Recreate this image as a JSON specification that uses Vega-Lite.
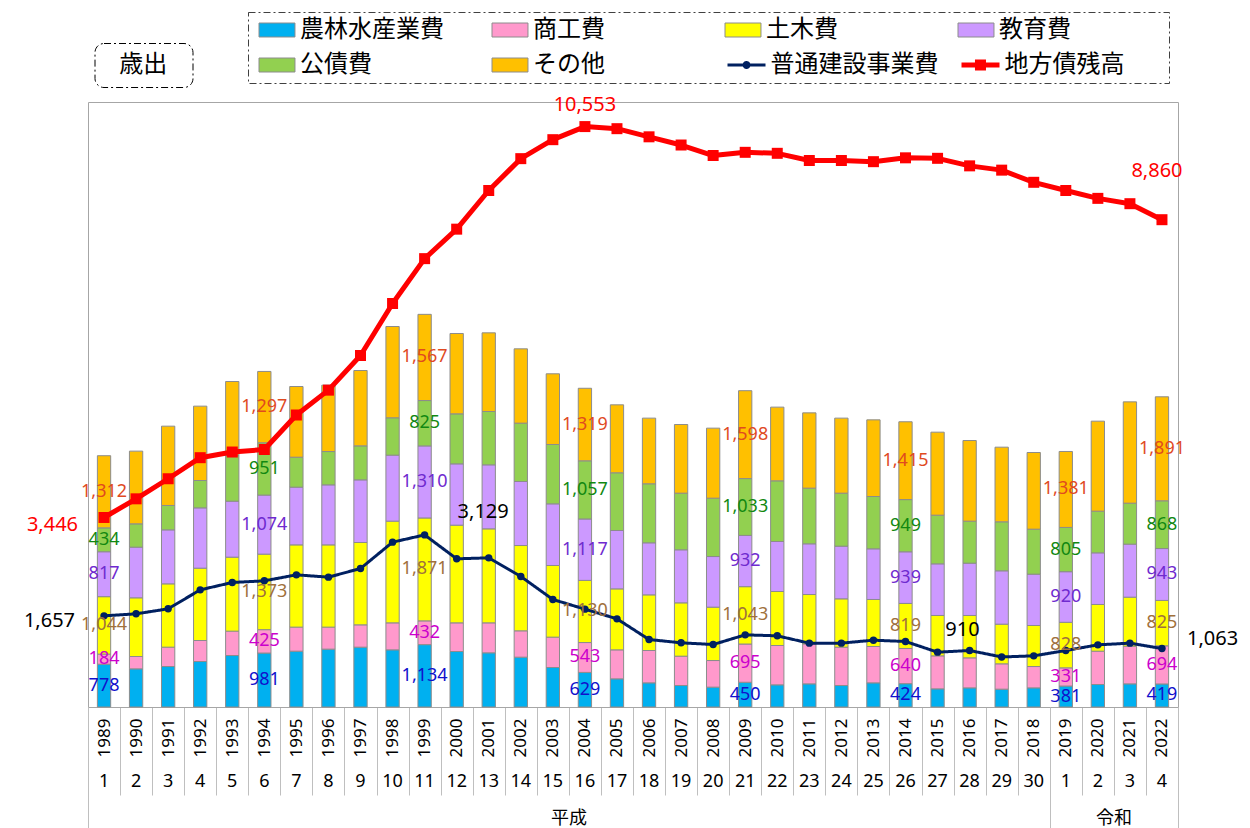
{
  "$schema": "https://vega.github.io/schema/vega-lite/v6.json",
  "width": 1090,
  "height": 605,
  "autosize": {"type": "none"},
  "padding": {"left": 88, "top": 102, "right": 72, "bottom": 121},
  "background": "white",
  "datasets": {
    "bars": [
      {"year":1989,"c":"農林水産業費","v":778,"k":1},{"year":1989,"c":"商工費","v":184,"k":2},{"year":1989,"c":"土木費","v":1044,"k":3},{"year":1989,"c":"教育費","v":817,"k":4},{"year":1989,"c":"公債費","v":434,"k":5},{"year":1989,"c":"その他","v":1312,"k":6},
      {"year":1990,"c":"農林水産業費","v":694,"k":1},{"year":1990,"c":"商工費","v":224,"k":2},{"year":1990,"c":"土木費","v":1067,"k":3},{"year":1990,"c":"教育費","v":921,"k":4},{"year":1990,"c":"公債費","v":424,"k":5},{"year":1990,"c":"その他","v":1322,"k":6},
      {"year":1991,"c":"農林水産業費","v":736,"k":1},{"year":1991,"c":"商工費","v":352,"k":2},{"year":1991,"c":"土木費","v":1151,"k":3},{"year":1991,"c":"教育費","v":982,"k":4},{"year":1991,"c":"公債費","v":443,"k":5},{"year":1991,"c":"その他","v":1442,"k":6},
      {"year":1992,"c":"農林水産業費","v":827,"k":1},{"year":1992,"c":"商工費","v":382,"k":2},{"year":1992,"c":"土木費","v":1315,"k":3},{"year":1992,"c":"教育費","v":1097,"k":4},{"year":1992,"c":"公債費","v":497,"k":5},{"year":1992,"c":"その他","v":1352,"k":6},
      {"year":1993,"c":"農林水産業費","v":936,"k":1},{"year":1993,"c":"商工費","v":443,"k":2},{"year":1993,"c":"土木費","v":1345,"k":3},{"year":1993,"c":"教育費","v":1018,"k":4},{"year":1993,"c":"公債費","v":831,"k":5},{"year":1993,"c":"その他","v":1345,"k":6},
      {"year":1994,"c":"農林水産業費","v":981,"k":1},{"year":1994,"c":"商工費","v":425,"k":2},{"year":1994,"c":"土木費","v":1373,"k":3},{"year":1994,"c":"教育費","v":1074,"k":4},{"year":1994,"c":"公債費","v":951,"k":5},{"year":1994,"c":"その他","v":1297,"k":6},
      {"year":1995,"c":"農林水産業費","v":1015,"k":1},{"year":1995,"c":"商工費","v":437,"k":2},{"year":1995,"c":"土木費","v":1496,"k":3},{"year":1995,"c":"教育費","v":1049,"k":4},{"year":1995,"c":"公債費","v":545,"k":5},{"year":1995,"c":"その他","v":1285,"k":6},
      {"year":1996,"c":"農林水産業費","v":1052,"k":1},{"year":1996,"c":"商工費","v":400,"k":2},{"year":1996,"c":"土木費","v":1496,"k":3},{"year":1996,"c":"教育費","v":1091,"k":4},{"year":1996,"c":"公債費","v":606,"k":5},{"year":1996,"c":"その他","v":1207,"k":6},
      {"year":1997,"c":"農林水産業費","v":1088,"k":1},{"year":1997,"c":"商工費","v":406,"k":2},{"year":1997,"c":"土木費","v":1497,"k":3},{"year":1997,"c":"教育費","v":1139,"k":4},{"year":1997,"c":"公債費","v":618,"k":5},{"year":1997,"c":"その他","v":1370,"k":6},
      {"year":1998,"c":"農林水産業費","v":1039,"k":1},{"year":1998,"c":"商工費","v":491,"k":2},{"year":1998,"c":"土木費","v":1849,"k":3},{"year":1998,"c":"教育費","v":1200,"k":4},{"year":1998,"c":"公債費","v":679,"k":5},{"year":1998,"c":"その他","v":1660,"k":6},
      {"year":1999,"c":"農林水産業費","v":1134,"k":1},{"year":1999,"c":"商工費","v":432,"k":2},{"year":1999,"c":"土木費","v":1871,"k":3},{"year":1999,"c":"教育費","v":1310,"k":4},{"year":1999,"c":"公債費","v":825,"k":5},{"year":1999,"c":"その他","v":1567,"k":6},
      {"year":2000,"c":"農林水産業費","v":1009,"k":1},{"year":2000,"c":"商工費","v":521,"k":2},{"year":2000,"c":"土木費","v":1776,"k":3},{"year":2000,"c":"教育費","v":1115,"k":4},{"year":2000,"c":"公債費","v":909,"k":5},{"year":2000,"c":"その他","v":1461,"k":6},
      {"year":2001,"c":"農林水産業費","v":985,"k":1},{"year":2001,"c":"商工費","v":545,"k":2},{"year":2001,"c":"土木費","v":1709,"k":3},{"year":2001,"c":"教育費","v":1164,"k":4},{"year":2001,"c":"公債費","v":970,"k":5},{"year":2001,"c":"その他","v":1430,"k":6},
      {"year":2002,"c":"農林水産業費","v":906,"k":1},{"year":2002,"c":"商工費","v":479,"k":2},{"year":2002,"c":"土木費","v":1551,"k":3},{"year":2002,"c":"教育費","v":1164,"k":4},{"year":2002,"c":"公債費","v":1061,"k":5},{"year":2002,"c":"その他","v":1351,"k":6},
      {"year":2003,"c":"農林水産業費","v":718,"k":1},{"year":2003,"c":"商工費","v":552,"k":2},{"year":2003,"c":"土木費","v":1303,"k":3},{"year":2003,"c":"教育費","v":1121,"k":4},{"year":2003,"c":"公債費","v":1079,"k":5},{"year":2003,"c":"その他","v":1285,"k":6},
      {"year":2004,"c":"農林水産業費","v":629,"k":1},{"year":2004,"c":"商工費","v":543,"k":2},{"year":2004,"c":"土木費","v":1130,"k":3},{"year":2004,"c":"教育費","v":1117,"k":4},{"year":2004,"c":"公債費","v":1057,"k":5},{"year":2004,"c":"その他","v":1319,"k":6},
      {"year":2005,"c":"農林水産業費","v":512,"k":1},{"year":2005,"c":"商工費","v":527,"k":2},{"year":2005,"c":"土木費","v":1109,"k":3},{"year":2005,"c":"教育費","v":1061,"k":4},{"year":2005,"c":"公債費","v":1049,"k":5},{"year":2005,"c":"その他","v":1236,"k":6},
      {"year":2006,"c":"農林水産業費","v":439,"k":1},{"year":2006,"c":"商工費","v":588,"k":2},{"year":2006,"c":"土木費","v":1012,"k":3},{"year":2006,"c":"教育費","v":946,"k":4},{"year":2006,"c":"公債費","v":1073,"k":5},{"year":2006,"c":"その他","v":1194,"k":6},
      {"year":2007,"c":"農林水産業費","v":391,"k":1},{"year":2007,"c":"商工費","v":533,"k":2},{"year":2007,"c":"土木費","v":970,"k":3},{"year":2007,"c":"教育費","v":964,"k":4},{"year":2007,"c":"公債費","v":1030,"k":5},{"year":2007,"c":"その他","v":1248,"k":6},
      {"year":2008,"c":"農林水産業費","v":361,"k":1},{"year":2008,"c":"商工費","v":484,"k":2},{"year":2008,"c":"土木費","v":970,"k":3},{"year":2008,"c":"教育費","v":921,"k":4},{"year":2008,"c":"公債費","v":1061,"k":5},{"year":2008,"c":"その他","v":1273,"k":6},
      {"year":2009,"c":"農林水産業費","v":450,"k":1},{"year":2009,"c":"商工費","v":695,"k":2},{"year":2009,"c":"土木費","v":1043,"k":3},{"year":2009,"c":"教育費","v":932,"k":4},{"year":2009,"c":"公債費","v":1033,"k":5},{"year":2009,"c":"その他","v":1598,"k":6},
      {"year":2010,"c":"農林水産業費","v":403,"k":1},{"year":2010,"c":"商工費","v":715,"k":2},{"year":2010,"c":"土木費","v":982,"k":3},{"year":2010,"c":"教育費","v":909,"k":4},{"year":2010,"c":"公債費","v":1103,"k":5},{"year":2010,"c":"その他","v":1340,"k":6},
      {"year":2011,"c":"農林水産業費","v":421,"k":1},{"year":2011,"c":"商工費","v":727,"k":2},{"year":2011,"c":"土木費","v":897,"k":3},{"year":2011,"c":"教育費","v":922,"k":4},{"year":2011,"c":"公債費","v":1012,"k":5},{"year":2011,"c":"その他","v":1369,"k":6},
      {"year":2012,"c":"農林水産業費","v":391,"k":1},{"year":2012,"c":"商工費","v":697,"k":2},{"year":2012,"c":"土木費","v":879,"k":3},{"year":2012,"c":"教育費","v":957,"k":4},{"year":2012,"c":"公債費","v":964,"k":5},{"year":2012,"c":"その他","v":1364,"k":6},
      {"year":2013,"c":"農林水産業費","v":439,"k":1},{"year":2013,"c":"商工費","v":661,"k":2},{"year":2013,"c":"土木費","v":855,"k":3},{"year":2013,"c":"教育費","v":921,"k":4},{"year":2013,"c":"公債費","v":951,"k":5},{"year":2013,"c":"その他","v":1394,"k":6},
      {"year":2014,"c":"農林水産業費","v":424,"k":1},{"year":2014,"c":"商工費","v":640,"k":2},{"year":2014,"c":"土木費","v":819,"k":3},{"year":2014,"c":"教育費","v":939,"k":4},{"year":2014,"c":"公債費","v":949,"k":5},{"year":2014,"c":"その他","v":1415,"k":6},
      {"year":2015,"c":"農林水産業費","v":330,"k":1},{"year":2015,"c":"商工費","v":600,"k":2},{"year":2015,"c":"土木費","v":734,"k":3},{"year":2015,"c":"教育費","v":939,"k":4},{"year":2015,"c":"公債費","v":885,"k":5},{"year":2015,"c":"その他","v":1509,"k":6},
      {"year":2016,"c":"農林水産業費","v":348,"k":1},{"year":2016,"c":"商工費","v":546,"k":2},{"year":2016,"c":"土木費","v":770,"k":3},{"year":2016,"c":"教育費","v":951,"k":4},{"year":2016,"c":"公債費","v":764,"k":5},{"year":2016,"c":"その他","v":1466,"k":6},
      {"year":2017,"c":"農林水産業費","v":324,"k":1},{"year":2017,"c":"商工費","v":461,"k":2},{"year":2017,"c":"土木費","v":721,"k":3},{"year":2017,"c":"教育費","v":970,"k":4},{"year":2017,"c":"公債費","v":891,"k":5},{"year":2017,"c":"その他","v":1357,"k":6},
      {"year":2018,"c":"農林水産業費","v":348,"k":1},{"year":2018,"c":"商工費","v":388,"k":2},{"year":2018,"c":"土木費","v":746,"k":3},{"year":2018,"c":"教育費","v":933,"k":4},{"year":2018,"c":"公債費","v":818,"k":5},{"year":2018,"c":"その他","v":1394,"k":6},
      {"year":2019,"c":"農林水産業費","v":381,"k":1},{"year":2019,"c":"商工費","v":331,"k":2},{"year":2019,"c":"土木費","v":828,"k":3},{"year":2019,"c":"教育費","v":920,"k":4},{"year":2019,"c":"公債費","v":805,"k":5},{"year":2019,"c":"その他","v":1381,"k":6},
      {"year":2020,"c":"農林水産業費","v":409,"k":1},{"year":2020,"c":"商工費","v":606,"k":2},{"year":2020,"c":"土木費","v":849,"k":3},{"year":2020,"c":"教育費","v":939,"k":4},{"year":2020,"c":"公債費","v":758,"k":5},{"year":2020,"c":"その他","v":1636,"k":6},
      {"year":2021,"c":"農林水産業費","v":421,"k":1},{"year":2021,"c":"商工費","v":685,"k":2},{"year":2021,"c":"土木費","v":891,"k":3},{"year":2021,"c":"教育費","v":964,"k":4},{"year":2021,"c":"公債費","v":745,"k":5},{"year":2021,"c":"その他","v":1842,"k":6},
      {"year":2022,"c":"農林水産業費","v":419,"k":1},{"year":2022,"c":"商工費","v":694,"k":2},{"year":2022,"c":"土木費","v":825,"k":3},{"year":2022,"c":"教育費","v":943,"k":4},{"year":2022,"c":"公債費","v":868,"k":5},{"year":2022,"c":"その他","v":1891,"k":6}
    ],
    "lines": [
      {"year":1989,"c":"普通建設事業費","v":1657},{"year":1990,"c":"普通建設事業費","v":1694},{"year":1991,"c":"普通建設事業費","v":1785},{"year":1992,"c":"普通建設事業費","v":2130},{"year":1993,"c":"普通建設事業費","v":2264},{"year":1994,"c":"普通建設事業費","v":2294},{"year":1995,"c":"普通建設事業費","v":2403},{"year":1996,"c":"普通建設事業費","v":2361},{"year":1997,"c":"普通建設事業費","v":2518},{"year":1998,"c":"普通建設事業費","v":2997},{"year":1999,"c":"普通建設事業費","v":3129},{"year":2000,"c":"普通建設事業費","v":2694},{"year":2001,"c":"普通建設事業費","v":2712},{"year":2002,"c":"普通建設事業費","v":2373},{"year":2003,"c":"普通建設事業費","v":1955},{"year":2004,"c":"普通建設事業費","v":1779},{"year":2005,"c":"普通建設事業費","v":1603},{"year":2006,"c":"普通建設事業費","v":1227},{"year":2007,"c":"普通建設事業費","v":1167},{"year":2008,"c":"普通建設事業費","v":1136},{"year":2009,"c":"普通建設事業費","v":1312},{"year":2010,"c":"普通建設事業費","v":1294},{"year":2011,"c":"普通建設事業費","v":1161},{"year":2012,"c":"普通建設事業費","v":1161},{"year":2013,"c":"普通建設事業費","v":1215},{"year":2014,"c":"普通建設事業費","v":1191},{"year":2015,"c":"普通建設事業費","v":997},{"year":2016,"c":"普通建設事業費","v":1027},{"year":2017,"c":"普通建設事業費","v":910},{"year":2018,"c":"普通建設事業費","v":930},{"year":2019,"c":"普通建設事業費","v":1027},{"year":2020,"c":"普通建設事業費","v":1130},{"year":2021,"c":"普通建設事業費","v":1161},{"year":2022,"c":"普通建設事業費","v":1063},
      {"year":1989,"c":"地方債残高","v":3446},{"year":1990,"c":"地方債残高","v":3785},{"year":1991,"c":"地方債残高","v":4150},{"year":1992,"c":"地方債残高","v":4533},{"year":1993,"c":"地方債残高","v":4636},{"year":1994,"c":"地方債残高","v":4682},{"year":1995,"c":"地方債残高","v":5309},{"year":1996,"c":"地方債残高","v":5761},{"year":1997,"c":"地方債残高","v":6391},{"year":1998,"c":"地方債残高","v":7336},{"year":1999,"c":"地方債残高","v":8152},{"year":2000,"c":"地方債残高","v":8688},{"year":2001,"c":"地方債残高","v":9391},{"year":2002,"c":"地方債残高","v":9970},{"year":2003,"c":"地方債残高","v":10315},{"year":2004,"c":"地方債残高","v":10553},{"year":2005,"c":"地方債残高","v":10515},{"year":2006,"c":"地方債残高","v":10367},{"year":2007,"c":"地方債残高","v":10218},{"year":2008,"c":"地方債残高","v":10027},{"year":2009,"c":"地方債残高","v":10085},{"year":2010,"c":"地方債残高","v":10067},{"year":2011,"c":"地方債残高","v":9936},{"year":2012,"c":"地方債残高","v":9936},{"year":2013,"c":"地方債残高","v":9915},{"year":2014,"c":"地方債残高","v":9985},{"year":2015,"c":"地方債残高","v":9976},{"year":2016,"c":"地方債残高","v":9839},{"year":2017,"c":"地方債残高","v":9761},{"year":2018,"c":"地方債残高","v":9540},{"year":2019,"c":"地方債残高","v":9391},{"year":2020,"c":"地方債残高","v":9248},{"year":2021,"c":"地方債残高","v":9151},{"year":2022,"c":"地方債残高","v":8860}
    ]
  },
  "resolve": {"axis": {"x": "independent"}},
  "layer": [
    {
      "data": {"name": "bars"},
      "mark": {"type": "bar", "stroke": "#8c8c8c", "strokeWidth": 1},
      "encoding": {
        "x": {
          "field": "year", "type": "ordinal",
          "scale": {"type": "band", "paddingInner": 0.585, "paddingOuter": 0.2925},
          "axis": {
            "orient": "bottom", "title": null, "labelAngle": -90, "labelFont": "Noto Sans", "labelFontSize": 17, "labelColor": "#000",
            "labelPadding": -77, "bandPosition": 0, "tickOffset": -9.377, "labelOffset": 9.377, "tickExtra": false, "tickSize": 88, "tickColor": "#bfbfbf", "tickWidth": 1,
            "domainColor": "#a6a6a6", "grid": false
          }
        },
        "y": {
          "field": "v", "type": "quantitative", "stack": "zero",
          "scale": {"domain": [0, 11000], "nice": false},
          "axis": {
            "title": "億円", "titleAngle": 0, "titleX": -44, "titleY": -49, "titleAlign": "center", "titleBaseline": "middle",
            "titleFont": "Noto Sans CJK JP", "titleFontSize": 16, "titleFontWeight": "normal", "titleColor": "#000",
            "values": [0, 2000, 4000, 6000, 8000, 10000], "format": ",", "labelFont": "Noto Sans", "labelFontSize": 18, "labelColor": "#000",
            "labelPadding": 20, "tickSize": 6, "tickColor": "#888", "domainColor": "#888", "grid": true, "gridColor": "#d9d9d9"
          }
        },
        "order": {"field": "k", "type": "quantitative"},
        "color": {
          "field": "c", "type": "nominal",
          "scale": {"domain": ["農林水産業費","商工費","土木費","教育費","公債費","その他"], "range": ["#00B0F0","#FF99CC","#FFFF00","#CC99FF","#92D050","#FFC000"]},
          "legend": {
            "orient": "none", "legendX": 160, "legendY": -90, "title": null, "direction": "horizontal", "columns": 4,
            "gridAlign": "all", "columnPadding": 23, "rowPadding": 11, "padding": 6,
            "labelFont": "Noto Sans CJK JP", "labelFontSize": 24, "labelColor": "#000", "labelLimit": 300, "labelOffset": 22,
            "symbolSize": 196, "symbolType": "M-1,-1H4.14V1H-1Z M28,0", "symbolStrokeWidth": 1, "symbolStrokeColor": "#8c8c8c",
            "strokeColor": "#404040"
          }
        }
      }
    },
    {
      "data": {"name": "lines"},
      "transform": [{"filter": {"field": "c", "equal": "普通建設事業費"}}],
      "mark": {"type": "line", "color": "#002060", "strokeWidth": 3, "strokeJoin": "round"},
      "encoding": {
        "x": {
          "field": "year", "type": "ordinal",
          "axis": {"orient": "bottom", "title": null, "labelAngle": 0, "labelBaseline": "middle", "labelPadding": 74, "ticks": false, "domain": false,
                   "labelFont": "Noto Sans", "labelFontSize": 18, "labelColor": "#000",
                   "labelExpr": "datum.value <= 2018 ? datum.value - 1988 : datum.value - 2018"}
        },
        "y": {"field": "v", "type": "quantitative", "axis": null},
        "strokeDash": {"field": "c", "type": "nominal", "scale": {"domain": ["普通建設事業費"], "range": [[1, 0]]},
          "legend": {"orient": "none", "legendX": 634.5, "legendY": -49, "title": null, "padding": 0,
                     "labelFont": "Noto Sans CJK JP", "labelFontSize": 24, "labelColor": "#000", "labelLimit": 300, "labelOffset": 24,
                     "symbolSize": 196, "symbolType": "M-1,0H4.43M2.06,0A0.35,0.35 0 1 1 1.36,0A0.35,0.35 0 1 1 2.06,0Z",
                     "symbolStrokeWidth": 3, "symbolStrokeColor": "#002060", "symbolFillColor": "#002060"}}
      }
    },
    {
      "data": {"name": "lines"},
      "transform": [{"filter": {"field": "c", "equal": "普通建設事業費"}}],
      "mark": {"type": "point", "filled": true, "size": 55, "color": "#002060", "opacity": 1},
      "encoding": {
        "x": {"field": "year", "type": "ordinal", "axis": null},
        "y": {"field": "v", "type": "quantitative", "axis": null}
      }
    },
    {
      "data": {"name": "lines"},
      "transform": [{"filter": {"field": "c", "equal": "地方債残高"}}],
      "mark": {"type": "line", "color": "#FF0000", "strokeWidth": 5, "strokeJoin": "round"},
      "encoding": {
        "x": {
          "field": "year", "type": "ordinal",
          "axis": {"orient": "bottom", "title": null, "values": [2004, 2021], "labelAngle": 0, "labelBaseline": "middle", "labelPadding": 111, "labelOffset": -16,
                   "ticks": false, "domain": false, "labelFont": "Noto Sans CJK JP", "labelFontSize": 18, "labelColor": "#000",
                   "labelExpr": "datum.value < 2019 ? '平成' : '令和'"}
        },
        "y": {"field": "v", "type": "quantitative", "axis": null},
        "opacity": {"field": "c", "type": "nominal", "scale": {"type": "ordinal", "domain": ["地方債残高"], "range": [1]},
          "legend": {"orient": "none", "legendX": 868.5, "legendY": -49, "title": null, "padding": 0,
                     "labelFont": "Noto Sans CJK JP", "labelFontSize": 24, "labelColor": "#000", "labelLimit": 300, "labelOffset": 24,
                     "symbolSize": 196, "symbolType": "M-1,0H4.43M1.28,-0.43H2.14V0.43H1.28Z",
                     "symbolStrokeWidth": 5, "symbolStrokeColor": "#FF0000", "symbolFillColor": "#FF0000"}}
      }
    },
    {
      "data": {"name": "lines"},
      "transform": [{"filter": {"field": "c", "equal": "地方債残高"}}],
      "mark": {"type": "point", "filled": true, "shape": "square", "size": 121, "color": "#FF0000", "opacity": 1},
      "encoding": {
        "x": {"field": "year", "type": "ordinal", "axis": null},
        "y": {"field": "v", "type": "quantitative", "axis": null}
      }
    },
    {
      "data": {"values": [{"year": 1989, "v": 0, "t": "歳出"}]},
      "mark": {"type": "point", "opacity": 0},
      "encoding": {
        "x": {"field": "year", "type": "ordinal",
          "axis": {"orient": "bottom", "title": null, "values": [1989, 2019], "bandPosition": 0, "tickOffset": -9.377, "tickExtra": false, "tickSize": 121,
                   "tickColor": "#bfbfbf", "labels": false, "domain": false, "grid": false}},
        "y": {"field": "v", "type": "quantitative", "axis": null},
        "shape": {"field": "t", "type": "nominal", "scale": {"domain": ["歳出"], "range": ["M0,0M3.675,1"]},
          "legend": {"orient": "none", "legendX": 6.5, "legendY": -59, "title": null, "padding": 2, "strokeColor": "#000", "cornerRadius": 9,
                     "symbolSize": 1600, "symbolOpacity": 0, "symbolStrokeWidth": 0,
                     "labelOffset": -17.25, "labelFont": "Noto Sans CJK JP", "labelFontSize": 24, "labelColor": "#000"}}
      }
    },
    {
      "data": {"name": "bars"},
      "transform": [{"filter": {"field": "year", "oneOf": [1989, 1994, 1999, 2004, 2009, 2014, 2019, 2022]}}],
      "mark": {"type": "text", "font": "Noto Sans", "fontSize": 18, "baseline": "middle", "align": "center"},
      "encoding": {
        "x": {"field": "year", "type": "ordinal",
          "axis": {"orient": "bottom", "title": null, "values": [2022], "bandPosition": 1, "tickOffset": 9.377, "tickExtra": false, "tickSize": 121,
                   "tickColor": "#bfbfbf", "labels": false, "domain": false, "grid": false}},
        "y": {"field": "v", "type": "quantitative", "stack": "zero", "bandPosition": 0.5, "axis": null},
        "order": {"field": "k", "type": "quantitative"},
        "text": {"field": "v", "type": "quantitative", "format": ","},
        "fill": {"field": "c", "type": "nominal", "legend": null,
          "scale": {"domain": ["農林水産業費","商工費","土木費","教育費","公債費","その他"], "range": ["#1010CC","#CC00CC","#A0703C","#6F2ACF","#118811","#E04A1F"]}}
      }
    },
    {
      "data": {"name": "lines"},
      "transform": [{"filter": "datum.c === '普通建設事業費' && datum.year === 1989"}],
      "mark": {"type": "text", "font": "Noto Sans", "fontSize": 20, "align": "right", "baseline": "middle", "dx": -29, "dy": 5, "color": "#000"},
      "encoding": {"x": {"field": "year", "type": "ordinal", "axis": null}, "y": {"field": "v", "type": "quantitative", "axis": null}, "text": {"field": "v", "type": "quantitative", "format": ","}}
    },
    {
      "data": {"name": "lines"},
      "transform": [{"filter": "datum.c === '普通建設事業費' && datum.year === 1999"}],
      "mark": {"type": "text", "font": "Noto Sans", "fontSize": 20, "align": "left", "baseline": "middle", "dx": 33, "dy": -23, "color": "#000"},
      "encoding": {"x": {"field": "year", "type": "ordinal", "axis": null}, "y": {"field": "v", "type": "quantitative", "axis": null}, "text": {"field": "v", "type": "quantitative", "format": ","}}
    },
    {
      "data": {"name": "lines"},
      "transform": [{"filter": "datum.c === '普通建設事業費' && datum.year === 2017"}],
      "mark": {"type": "text", "font": "Noto Sans", "fontSize": 20, "align": "right", "baseline": "middle", "dx": -22, "dy": -27, "color": "#000"},
      "encoding": {"x": {"field": "year", "type": "ordinal", "axis": null}, "y": {"field": "v", "type": "quantitative", "axis": null}, "text": {"field": "v", "type": "quantitative", "format": ","}}
    },
    {
      "data": {"name": "lines"},
      "transform": [{"filter": "datum.c === '普通建設事業費' && datum.year === 2022"}],
      "mark": {"type": "text", "font": "Noto Sans", "fontSize": 20, "align": "left", "baseline": "middle", "dx": 25, "dy": -10, "color": "#000"},
      "encoding": {"x": {"field": "year", "type": "ordinal", "axis": null}, "y": {"field": "v", "type": "quantitative", "axis": null}, "text": {"field": "v", "type": "quantitative", "format": ","}}
    },
    {
      "data": {"name": "lines"},
      "transform": [{"filter": "datum.c === '地方債残高' && datum.year === 1989"}],
      "mark": {"type": "text", "font": "Noto Sans", "fontSize": 20, "align": "right", "baseline": "middle", "dx": -26, "dy": 8, "color": "#FF0000"},
      "encoding": {"x": {"field": "year", "type": "ordinal", "axis": null}, "y": {"field": "v", "type": "quantitative", "axis": null}, "text": {"field": "v", "type": "quantitative", "format": ","}}
    },
    {
      "data": {"name": "lines"},
      "transform": [{"filter": "datum.c === '地方債残高' && datum.year === 2004"}],
      "mark": {"type": "text", "font": "Noto Sans", "fontSize": 20, "align": "center", "baseline": "middle", "dy": -22, "color": "#FF0000"},
      "encoding": {"x": {"field": "year", "type": "ordinal", "axis": null}, "y": {"field": "v", "type": "quantitative", "axis": null}, "text": {"field": "v", "type": "quantitative", "format": ","}}
    },
    {
      "data": {"name": "lines"},
      "transform": [{"filter": "datum.c === '地方債残高' && datum.year === 2022"}],
      "mark": {"type": "text", "font": "Noto Sans", "fontSize": 20, "align": "center", "baseline": "middle", "dx": -5, "dy": -49, "color": "#FF0000"},
      "encoding": {"x": {"field": "year", "type": "ordinal", "axis": null}, "y": {"field": "v", "type": "quantitative", "axis": null}, "text": {"field": "v", "type": "quantitative", "format": ","}}
    }
  ],
  "config": {
    "view": {"stroke": "#a6a6a6", "strokeWidth": 1},
    "font": "Noto Sans",
    "legend": {"strokeDash": [7, 3, 2, 3], "strokeWidth": 1}
  }
}
